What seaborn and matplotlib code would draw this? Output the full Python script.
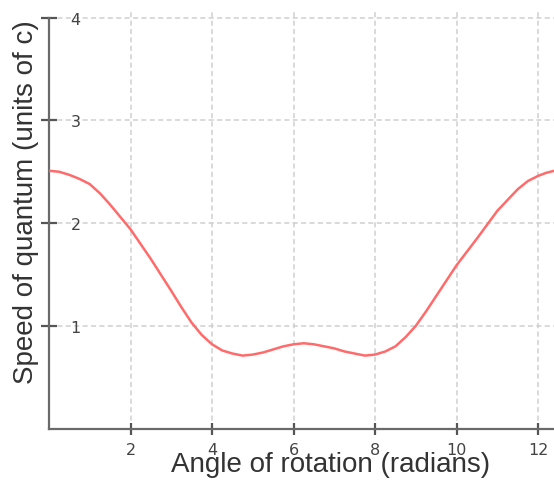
import matplotlib
matplotlib.use("Agg")
import matplotlib.pyplot as plt
import seaborn as sns
import pandas as pd

# Data
angle = [0.0, 0.25, 0.5, 0.75, 1.0, 1.25, 1.5, 2.0, 2.5, 3.0, 3.25, 3.5, 3.75, 4.0, 4.25,
         4.5, 4.75, 5.0, 5.25, 5.5, 5.75, 6.0, 6.25, 6.5, 6.75, 7.0, 7.25, 7.5,
         7.75, 8.0, 8.25, 8.5, 8.75, 9.0, 9.25, 9.5, 10.0, 10.5, 11.0, 11.5, 11.75,
         12.0, 12.2, 12.4]
speed = [2.51, 2.50, 2.47, 2.43, 2.38, 2.29, 2.18, 1.94, 1.65, 1.34, 1.18, 1.03, 0.91, 0.82, 0.76,
         0.73, 0.71, 0.72, 0.74, 0.77, 0.80, 0.82, 0.83, 0.82, 0.80, 0.78, 0.75, 0.73,
         0.71, 0.72, 0.75, 0.80, 0.89, 1.00, 1.14, 1.29, 1.59, 1.85, 2.12, 2.33, 2.41,
         2.46, 2.49, 2.51]
x_ticks = [2, 4, 6, 8, 10, 12]
y_ticks = [1, 2, 3, 4]
x_label = "Angle of rotation (radians)"
y_label = "Speed of quantum (units of c)"

df = pd.DataFrame({"angle": angle, "speed": speed})

sns.set_theme(style="white")
plt.rcParams["font.family"] = ["DejaVu Sans"]

fig = plt.figure(figsize=(5.54, 4.81), dpi=100)
W, H = 554, 481
ax = fig.add_axes([49 / W, 51.5 / H, 505 / W, 419.5 / H])

sns.lineplot(data=df, x="angle", y="speed", ax=ax, color="#ff6b6b",
             linewidth=1.8, zorder=3)

ax.set_xlim(0, 12.39)
ax.set_ylim(0, 4.085)
ax.set_xticks(x_ticks)
ax.set_yticks(y_ticks)
ax.set_xticklabels([str(v) for v in x_ticks])
ax.set_yticklabels([str(v) for v in y_ticks])

ax.grid(True, color="#cfcfcf", linewidth=1.1, linestyle=(0, (3.3, 2.2)), zorder=0)
ax.set_axisbelow(True)

for s in ["top", "right"]:
    ax.spines[s].set_visible(False)
for s in ["left", "bottom"]:
    ax.spines[s].set_color("#6a6a6a")
    ax.spines[s].set_linewidth(1.6)
ax.spines["left"].set_bounds(0, 4)

ax.tick_params(axis="both", direction="inout", color="#555555", width=1.6,
               labelcolor="#444444", labelsize=11.5, bottom=True, left=True)
ax.tick_params(axis="y", length=11, pad=-21)
ax.tick_params(axis="x", length=9, pad=5)
for lab in ax.get_yticklabels():
    lab.set_horizontalalignment("left")

lab_font = dict(family=["Liberation Sans", "DejaVu Sans"], size=20, color="#333333")
ax.set_xlabel(x_label, **lab_font)
ax.set_ylabel(y_label, **lab_font)
ax.xaxis.set_label_coords((331 - 49) / 505, -(465 - 429.5) / 419.5)
ax.xaxis.label.set_va("center")
ax.yaxis.set_label_coords(-(49 - 26) / 505, (429.5 - 202) / 419.5)
ax.yaxis.label.set_va("center")

fig.savefig("out.png", dpi=100)
